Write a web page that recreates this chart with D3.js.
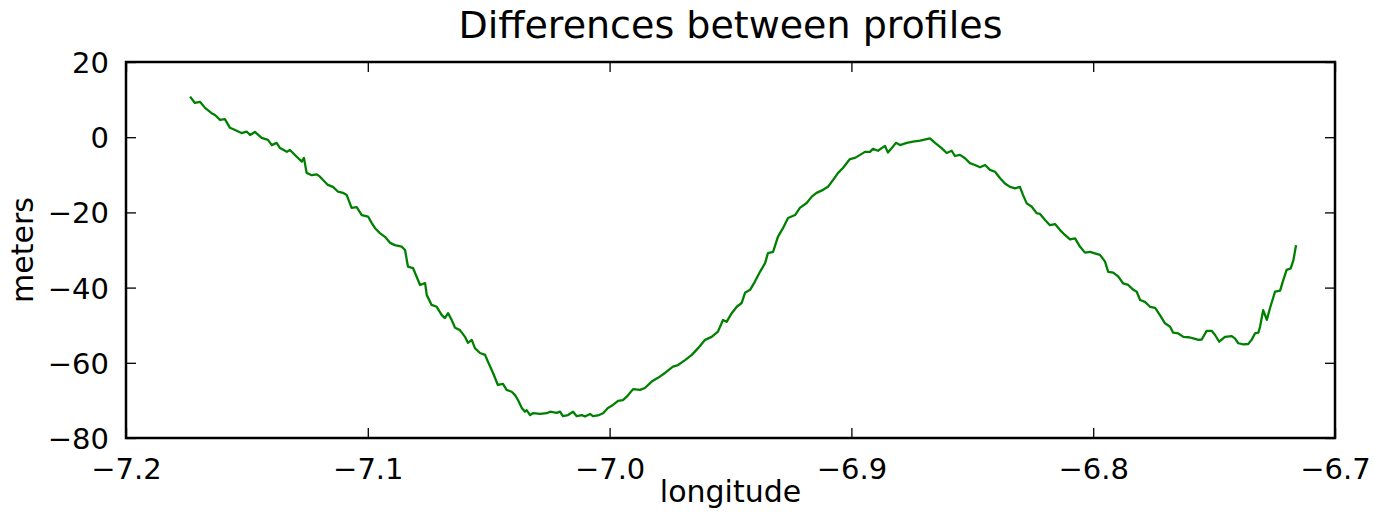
<!DOCTYPE html>
<html>
<head>
<meta charset="utf-8">
<script src="https://cdn.jsdelivr.net/npm/d3@7"></script>
<style>
  html, body { margin: 0; padding: 0; background: #fff; }
  svg { display: block; }
  text { font-family: "DejaVu Sans", sans-serif; fill: #000; }
</style>
</head>
<body>
<svg id="chart" width="1375" height="514"></svg>
<script>
// Profile difference (meters) along longitude
const longitude = [
  -7.1735, -7.1715, -7.1694, -7.1673, -7.1646, -7.1632, -7.1611, -7.1591, -7.1570, -7.1549,
  -7.1522, -7.1501, -7.1487, -7.1467, -7.1439, -7.1413, -7.1397, -7.1377, -7.1363, -7.1335,
  -7.1322, -7.1294, -7.1273, -7.1264, -7.1253, -7.1232, -7.1211, -7.1198, -7.1185, -7.1165,
  -7.1144, -7.1123, -7.1103, -7.1087, -7.1067, -7.1046, -7.1025, -7.0999, -7.0984, -7.0970,
  -7.0950, -7.0929, -7.0908, -7.0888, -7.0860, -7.0846, -7.0834, -7.0813, -7.0798, -7.0784,
  -7.0763, -7.0756, -7.0736, -7.0715, -7.0694, -7.0681, -7.0668, -7.0653, -7.0639, -7.0619,
  -7.0598, -7.0586, -7.0570, -7.0557, -7.0536, -7.0515, -7.0503, -7.0482, -7.0462, -7.0441,
  -7.0426, -7.0405, -7.0391, -7.0379, -7.0363, -7.0350, -7.0343, -7.0329, -7.0317, -7.0288,
  -7.0260, -7.0246, -7.0219, -7.0205, -7.0193, -7.0172, -7.0151, -7.0136, -7.0115, -7.0102,
  -7.0081, -7.0069, -7.0048, -7.0027, -7.0007, -6.9986, -6.9965, -6.9945, -6.9929, -6.9903,
  -6.9874, -6.9854, -6.9826, -6.9800, -6.9771, -6.9738, -6.9717, -6.9688, -6.9660, -6.9634,
  -6.9605, -6.9578, -6.9552, -6.9531, -6.9516, -6.9495, -6.9474, -6.9454, -6.9440, -6.9419,
  -6.9399, -6.9378, -6.9357, -6.9345, -6.9324, -6.9304, -6.9283, -6.9262, -6.9233, -6.9213,
  -6.9185, -6.9164, -6.9144, -6.9117, -6.9097, -6.9076, -6.9055, -6.9035, -6.9006, -6.8985,
  -6.8964, -6.8944, -6.8923, -6.8911, -6.8890, -6.8875, -6.8861, -6.8849, -6.8833, -6.8816,
  -6.8799, -6.8771, -6.8745, -6.8716, -6.8675, -6.8654, -6.8627, -6.8606, -6.8585, -6.8572,
  -6.8551, -6.8530, -6.8510, -6.8489, -6.8468, -6.8447, -6.8427, -6.8406, -6.8385, -6.8365,
  -6.8344, -6.8323, -6.8303, -6.8290, -6.8275, -6.8254, -6.8234, -6.8220, -6.8199, -6.8179,
  -6.8158, -6.8137, -6.8117, -6.8096, -6.8075, -6.8055, -6.8034, -6.8013, -6.7993, -6.7972,
  -6.7951, -6.7938, -6.7917, -6.7896, -6.7876, -6.7855, -6.7834, -6.7820, -6.7806, -6.7786,
  -6.7765, -6.7744, -6.7724, -6.7703, -6.7682, -6.7669, -6.7648, -6.7627, -6.7607, -6.7586,
  -6.7565, -6.7551, -6.7531, -6.7510, -6.7496, -6.7479, -6.7455, -6.7427, -6.7414, -6.7400,
  -6.7379, -6.7359, -6.7345, -6.7331, -6.7317, -6.7310, -6.7297, -6.7282, -6.7269, -6.7248,
  -6.7227, -6.7214, -6.7200, -6.7183, -6.7172, -6.7161
];

const meters = [
  10.8, 9.1, 9.4, 7.8, 6.4, 5.9, 4.6, 4.8, 2.5, 1.9,
  1.1, 1.5, 0.6, 1.4, -0.2, -0.7, -2.1, -1.5, -2.9, -3.9,
  -3.4, -5.2, -6.5, -5.5, -9.5, -10.1, -9.9, -10.5, -11.4, -12.7,
  -13.2, -14.5, -14.8, -15.4, -18.8, -18.6, -20.7, -21.1, -22.8, -24.2,
  -25.5, -26.5, -28.1, -28.7, -29.1, -30.0, -34.4, -34.8, -37.1, -39.3,
  -38.8, -42.0, -44.6, -45.1, -47.3, -48.1, -46.8, -48.6, -50.7, -51.3,
  -53.1, -54.7, -53.9, -56.1, -57.4, -57.9, -59.7, -62.7, -65.9, -65.6,
  -67.2, -67.7, -68.6, -69.9, -72.0, -73.0, -72.6, -73.9, -73.4, -73.6,
  -73.4, -73.0, -73.3, -73.0, -74.2, -73.9, -73.0, -74.2, -73.9, -74.3,
  -73.6, -74.2, -74.0, -73.4, -72.0, -71.2, -70.1, -69.9, -69.0, -67.0,
  -67.2, -66.7, -65.0, -64.0, -62.7, -61.0, -60.6, -59.3, -57.9, -56.1,
  -53.9, -53.1, -51.7, -48.6, -49.1, -46.8, -45.1, -44.1, -41.4, -40.6,
  -38.4, -35.8, -33.5, -30.8, -30.5, -26.5, -24.2, -21.5, -20.7, -18.8,
  -17.5, -15.8, -14.8, -14.0, -13.2, -11.4, -9.5, -8.2, -5.8, -5.5,
  -4.7, -3.9, -3.9, -3.1, -3.6, -2.9, -2.3, -4.1, -2.9, -1.5,
  -2.1, -1.5, -1.2, -0.9, -0.3, -1.5, -2.9, -4.2, -3.6, -5.0,
  -4.7, -5.6, -6.9, -7.4, -8.0, -7.4, -8.7, -9.2, -10.9, -12.3,
  -13.2, -13.6, -13.2, -15.4, -17.6, -18.5, -20.2, -20.4, -22.0, -23.4,
  -23.1, -24.7, -26.0, -27.2, -26.9, -29.1, -30.7, -30.5, -30.9, -31.3,
  -33.1, -35.8, -36.0, -37.1, -38.9, -39.3, -40.6, -41.1, -43.3, -43.8,
  -45.1, -45.4, -47.3, -49.5, -50.4, -52.0, -52.2, -53.1, -53.2, -53.5,
  -53.9, -53.8, -51.5, -51.5, -52.6, -54.4, -53.1, -52.9, -53.5, -54.8,
  -55.1, -55.0, -53.9, -52.2, -52.0, -50.4, -46.0, -48.6, -45.5, -41.1,
  -40.8, -38.0, -35.3, -34.9, -32.7, -28.7
];

const xTicks = [-7.2, -7.1, -7.0, -6.9, -6.8, -6.7];
const yTicks = [-80, -60, -40, -20, 0, 20];
const xDomain = [-7.2, -6.7];
const yDomain = [-80, 20];

const titleText = "Differences between profiles";
const xLabelText = "longitude";
const yLabelText = "meters";

const margin = { left: 126, right: 40, top: 62, bottom: 76 };
const W = 1375, H = 514;
const iw = W - margin.left - margin.right;
const ih = H - margin.top - margin.bottom;

const svg = d3.select("#chart");
const g = svg.append("g").attr("transform", `translate(${margin.left},${margin.top})`);

const x = d3.scaleLinear().domain(xDomain).range([0, iw]);
const y = d3.scaleLinear().domain(yDomain).range([ih, 0]);

const minus = v => (v < 0 ? "\u2212" : "") + Math.abs(v);
const fmtX = v => minus(+v.toFixed(1)).replace(/^(\u2212?\d+)$/, "$1.0");

const tickFont = 29;
const tickLen = 10;

// Data line
const points = longitude.map((lon, i) => [lon, meters[i]]);
g.append("path")
  .datum(points)
  .attr("fill", "none")
  .attr("stroke", "#008000")
  .attr("stroke-width", 2.3)
  .attr("stroke-linejoin", "round")
  .attr("d", d3.line().x(d => x(d[0])).y(d => y(d[1])));

// Axes with inward ticks on all four sides
function styleAxis(sel) {
  sel.select(".domain").remove();
  sel.selectAll(".tick line").attr("stroke", "#000").attr("stroke-width", 1.3);
  sel.selectAll("text").style("font-size", tickFont + "px").attr("fill", "#000");
}

const xb = g.append("g").attr("transform", `translate(0,${ih})`)
  .call(d3.axisBottom(x).tickValues(xTicks).tickFormat(fmtX).tickSizeInner(-tickLen).tickSizeOuter(0).tickPadding(tickLen + 10));
styleAxis(xb);

const xt = g.append("g")
  .call(d3.axisTop(x).tickValues(xTicks).tickFormat("").tickSizeInner(-tickLen).tickSizeOuter(0));
styleAxis(xt);

const yl = g.append("g")
  .call(d3.axisLeft(y).tickValues(yTicks).tickFormat(minus).tickSizeInner(-tickLen).tickSizeOuter(0).tickPadding(tickLen + 7));
styleAxis(yl);
yl.selectAll("text").attr("dy", "0.36em");

const yr = g.append("g").attr("transform", `translate(${iw},0)`)
  .call(d3.axisRight(y).tickValues(yTicks).tickFormat("").tickSizeInner(-tickLen).tickSizeOuter(0));
styleAxis(yr);

// Frame
g.append("rect")
  .attr("x", 0).attr("y", 0).attr("width", iw).attr("height", ih)
  .attr("fill", "none").attr("stroke", "#000").attr("stroke-width", 2.5);

// Title and axis labels
svg.append("text")
  .attr("x", margin.left + iw / 2).attr("y", 38)
  .attr("text-anchor", "middle")
  .style("font-size", "38px")
  .text(titleText);

svg.append("text")
  .attr("x", margin.left + iw / 2).attr("y", 502)
  .attr("text-anchor", "middle")
  .style("font-size", "30px")
  .text(xLabelText);

svg.append("text")
  .attr("transform", `translate(33,${margin.top + ih / 2}) rotate(-90)`)
  .attr("text-anchor", "middle")
  .style("font-size", "30px")
  .text(yLabelText);
</script>
</body>
</html>
